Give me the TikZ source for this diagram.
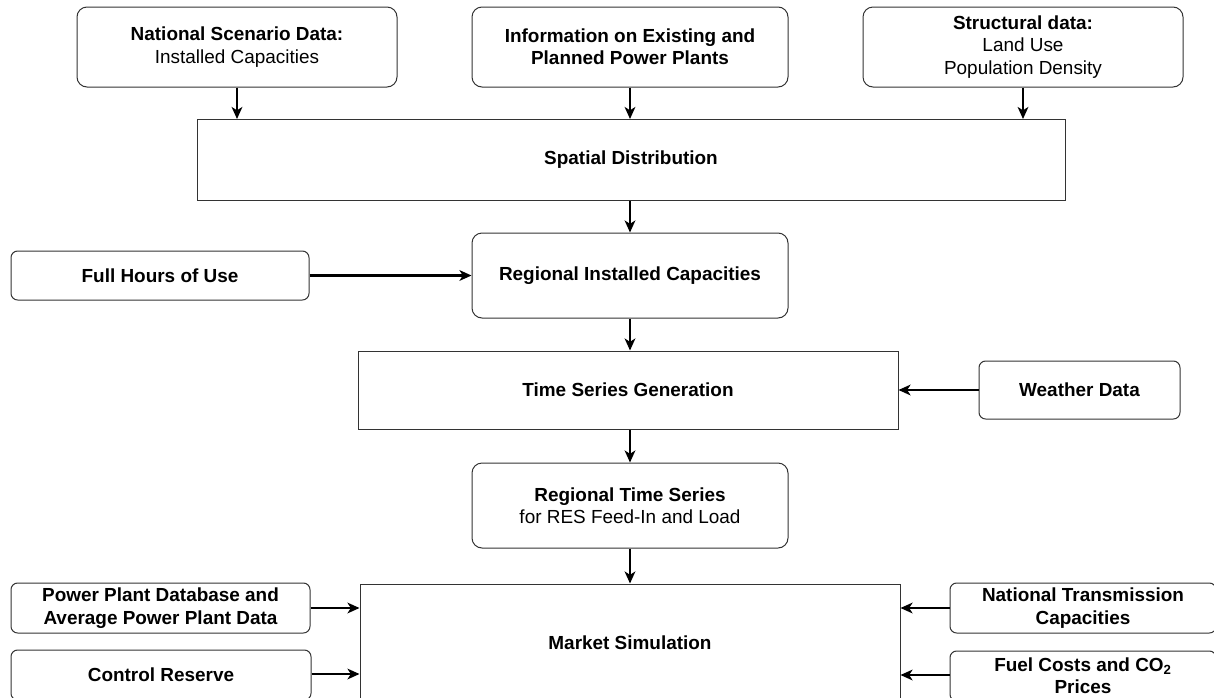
\documentclass[tikz,border=0pt]{standalone}
\usepackage{fontspec}
\setmainfont{Liberation Sans}
\usetikzlibrary{positioning,arrows.meta}

\definecolor{boxline}{HTML}{333333}
\tikzset{
  basebox/.style={draw=boxline, line width=0.75pt, align=center, inner sep=0pt,
    font=\fontsize{14.2}{16.8}\selectfont},
  databox/.style={basebox, rounded corners=7.5pt},
  smallbox/.style={basebox, rounded corners=5pt, font=\fontsize{14.2}{16.8}\selectfont\bfseries},
  stepbox/.style={basebox, font=\fontsize{14.2}{16.8}\selectfont\bfseries},
  flow/.style={-{Stealth[length=9pt,width=8pt,inset=2.5pt]}, line width=1.8pt}
}

\begin{document}
\begin{tikzpicture}[x=0.75pt,y=-0.75pt]
\useasboundingbox (0,0) rectangle (1214,697);
\clip (0,0) rectangle (1214,697);

% inputs on top
\node[databox, minimum width=240pt, minimum height=60pt] (natl) at (237,47)
  {\textbf{National Scenario Data:}\\Installed Capacities};
\node[databox, minimum width=237pt, minimum height=60pt] (info) at (630,47)
  {\textbf{Information on Existing and}\\\textbf{Planned Power Plants}};
\node[databox, minimum width=240pt, minimum height=60pt] (struct) at (1023,47)
  {\textbf{Structural data:}\\Land Use\\Population Density};

% main chain
\node[stepbox, minimum width=651pt, minimum height=60.75pt] (spatial) at (631,160) {Spatial Distribution};
\node[databox, minimum width=237pt, minimum height=63.75pt, font=\fontsize{14.2}{16.8}\selectfont\bfseries] (reginst) at (630,275.5) {Regional Installed Capacities};
\node[stepbox, minimum width=405pt, minimum height=58.5pt] (timeser) at (628,390) {Time Series Generation};
\node[databox, minimum width=237pt, minimum height=63.75pt] (regts) at (630,505.5)
  {\textbf{Regional Time Series}\\for RES Feed-In and Load};
\node[stepbox, minimum width=405pt, minimum height=88.5pt] (market) at (630,643) {Market Simulation};

% side inputs
\node[smallbox, minimum width=223.5pt, minimum height=36.75pt] (fullhrs) at (160,275.5) {Full Hours of Use};
\node[smallbox, minimum width=150.75pt, minimum height=43.5pt] (weather) at (1079.5,390) {Weather Data};
\node[smallbox, minimum width=224.25pt, minimum height=37.5pt] (ppdb) at (160.5,608)
  {Power Plant Database and\\Average Power Plant Data};
\node[smallbox, minimum width=225pt, minimum height=37.5pt] (ctrl) at (161,675) {Control Reserve};
\node[smallbox, minimum width=199.5pt, minimum height=37.5pt] (ntc) at (1083,608)
  {National Transmission\\Capacities};
\node[smallbox, minimum width=199.5pt, minimum height=37.5pt] (fuel) at (1083,676)
  {Fuel Costs and CO\textsubscript{2}\\Prices};

% arrows
\draw[flow] (natl.south) -- (natl.south |- spatial.north);
\draw[flow] (info.south) -- (info.south |- spatial.north);
\draw[flow] (struct.south) -- (struct.south |- spatial.north);
\draw[flow] (reginst.north |- spatial.south) -- (reginst.north);
\draw[flow] (fullhrs.east) -- (fullhrs.east -| reginst.west);
\draw[flow] (reginst.south) -- (reginst.south |- timeser.north);
\draw[flow] (weather.west) -- (weather.west -| timeser.east);
\draw[flow] (regts.north |- timeser.south) -- (regts.north);
\draw[flow] (regts.south) -- (regts.south |- market.north);
\draw[flow] (ppdb.east) -- (ppdb.east -| market.west);
\draw[flow] ([yshift=0.75pt]ctrl.east) -- ([yshift=0.75pt]ctrl.east -| market.west);
\draw[flow] (ntc.west) -- (ntc.west -| market.east);
\draw[flow] ([yshift=0.75pt]fuel.west) -- ([yshift=0.75pt]fuel.west -| market.east);
\end{tikzpicture}
\end{document}
